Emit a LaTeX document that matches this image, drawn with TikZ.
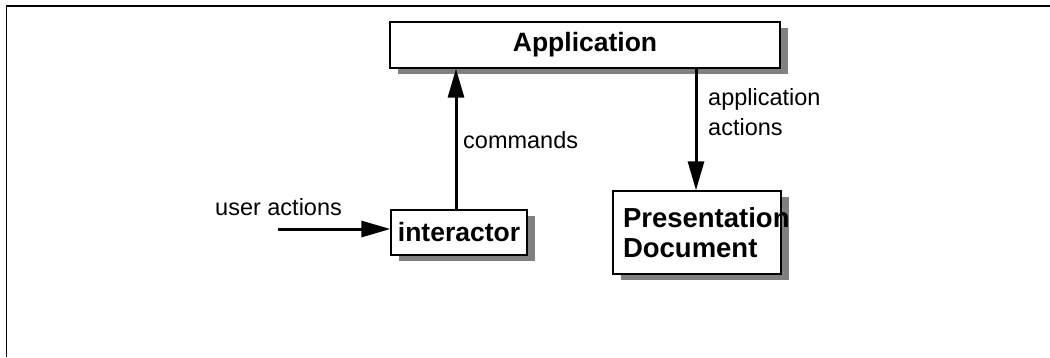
\documentclass[tikz,border=0pt]{standalone}
\usepackage{fontspec}
\setmainfont{Liberation Sans}
\usetikzlibrary{arrows.meta,shadows}
\definecolor{shadowgray}{HTML}{808080}
\begin{document}
\begin{tikzpicture}[x=1pt,y=-1pt,
  box/.style={draw=black,line width=1.3pt,fill=white,rectangle,
    drop shadow={shadow xshift=8pt,shadow yshift=-6pt,fill=shadowgray,opacity=1},
    font=\fontsize{26.5}{30}\selectfont\bfseries},
  lbl/.style={anchor=base west,inner sep=0pt,font=\fontsize{23.5}{30}\selectfont},
  arr/.style={line width=3pt,-{Triangle[length=29pt,width=16pt]}}]
\useasboundingbox (0,0) rectangle (1050,357);
% frame edges
\draw[line width=1.8pt] (1050,6) -- (6.5,6) -- (6.5,357);

% boxes
\node[box,minimum width=390pt,minimum height=46pt,inner sep=0pt] (app) at (585,45) {Application};
\node[box,minimum width=136pt,minimum height=45pt,inner sep=0pt] (inter) at (459,232.5) {interactor};
\node[box,minimum width=168pt,minimum height=83pt,inner xsep=10pt,inner ysep=0pt,
      text width=148pt,align=left,font=\fontsize{27.5}{30}\selectfont\bfseries]
      (pres) at (697,232.5) {Presentation\\Document};

% connectors
\coordinate (ustart) at (278,229);
\draw[arr] ([xshift=-3pt]inter.north) -- ([xshift=-3pt]inter.north |- app.south);
\draw[arr] ([xshift=-1pt]pres.north |- app.south) -- ([xshift=-1pt]pres.north);
\draw[arr] (ustart) -- (ustart -| inter.west);

% labels
\node[lbl] (lcmd) at (463,148) {commands};
\node[lbl,align=left] (lact) at (708,135) {application\\actions};
\node[lbl] (luser) at (215,215) {user actions};
\end{tikzpicture}
\end{document}
